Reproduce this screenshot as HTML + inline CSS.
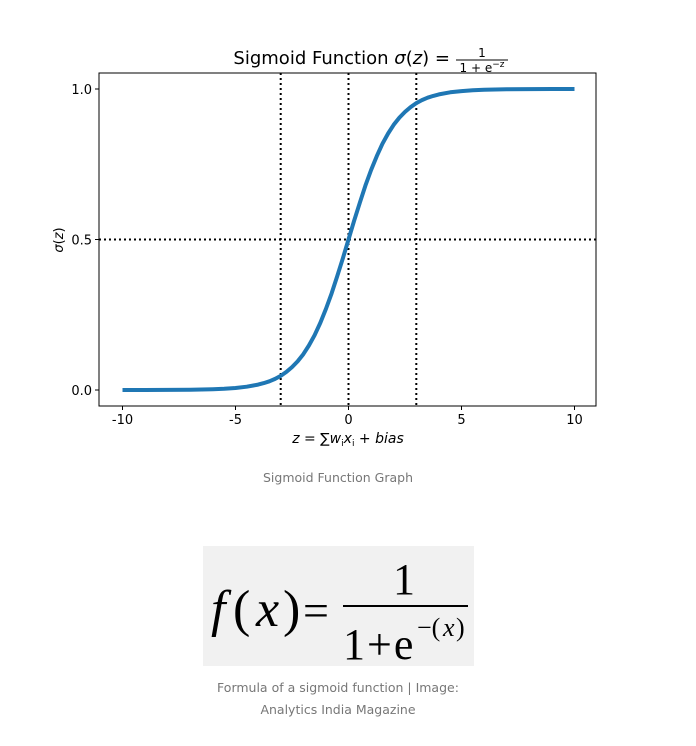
<!DOCTYPE html>
<html><head><meta charset="utf-8"><style>
body{margin:0;background:#fff;width:696px;height:746px;overflow:hidden;font-family:"DejaVu Sans","Liberation Sans",sans-serif}
.cap{position:absolute;left:0;width:676px;text-align:center;color:#777;font-size:12.5px;font-family:"DejaVu Sans","Liberation Sans",sans-serif}
</style></head><body>
<svg width="696" height="470" style="position:absolute;left:0;top:0" id="chart"></svg>
<div class="cap" style="top:470px">Sigmoid Function Graph</div>
<div style="position:absolute;left:203px;top:546px;width:271px;height:120px;background:#f1f1f1">
<svg width="271" height="120" style="position:absolute;left:0;top:0" font-family="Liberation Serif,serif">
<text x="8" y="80" font-size="52" font-style="italic">f</text>
<text x="30" y="80" font-size="52">(</text>
<text x="53" y="80" font-size="52" font-style="italic">x</text>
<text x="80" y="80" font-size="52">)</text>
<text x="100" y="80" font-size="46">=</text>
<text x="190" y="48" font-size="44">1</text>
<line x1="140" y1="60" x2="265" y2="60" stroke="#000" stroke-width="2"/>
<text x="140" y="113" font-size="44">1<tspan dx="2">+</tspan><tspan dx="2">e</tspan></text>
<text x="214" y="90" font-size="26">−(</text>
<text x="240" y="90" font-size="26" font-style="italic">x</text>
<text x="253" y="90" font-size="26">)</text>
</svg></div>
<div class="cap" style="top:677px;line-height:22px">Formula of a sigmoid function | Image:<br>Analytics India Magazine</div>
<script>
const zVals=[-10,-9,-8,-7,-6,-5.5,-5,-4.5,-4,-3.75,-3.5,-3.25,-3,-2.75,-2.5,-2.25,-2,-1.75,-1.5,-1.25,-1,-0.75,-0.5,-0.25,0,0.25,0.5,0.75,1,1.25,1.5,1.75,2,2.25,2.5,2.75,3,3.25,3.5,3.75,4,4.5,5,5.5,6,7,8,9,10];
const sigVals=[0.00005,0.00012,0.00034,0.0009,0.0025,0.004,0.0067,0.011,0.018,0.023,0.029,0.037,0.047,0.060,0.076,0.095,0.119,0.148,0.182,0.223,0.269,0.321,0.378,0.438,0.5,0.562,0.622,0.679,0.731,0.777,0.818,0.852,0.881,0.905,0.924,0.940,0.953,0.963,0.971,0.977,0.982,0.989,0.993,0.996,0.9975,0.999,0.9997,0.9999,1.0];
const xTicks=[-10,-5,0,5,10];
const yTicks=[0.0,0.5,1.0];
const vLines=[-3,0,3];
const hLines=[0.5];
const NS="http://www.w3.org/2000/svg";
const svg=document.getElementById('chart');
const L=99,R=596,T=73,B=406;
const sx=z=>348.5+z*22.6;
const sy=v=>390-v*301;
function mk(t,a){const e=document.createElementNS(NS,t);for(const k in a)e.setAttribute(k,a[k]);svg.appendChild(e);return e;}
let d=zVals.map((z,i)=>(i?'L':'M')+sx(z).toFixed(1)+','+sy(sigVals[i]).toFixed(1)).join(' ');
vLines.forEach(z=>{const l=mk('line',{x1:sx(z),x2:sx(z),y1:T,y2:B,stroke:'#000','stroke-width':2,'stroke-dasharray':'2,3'});

});
hLines.forEach(v=>{const l=mk('line',{x1:L,x2:R,y1:sy(v),y2:sy(v),stroke:'#000','stroke-width':2,'stroke-dasharray':'2,3'});

});
const c=mk('path',{d:d,fill:'none',stroke:'#1f77b4','stroke-width':4,'stroke-linejoin':'round'});


const f=mk('rect',{x:L,y:T,width:R-L,height:B-T,fill:'none',stroke:'#000','stroke-width':1});


xTicks.forEach(z=>{mk('line',{x1:sx(z),x2:sx(z),y1:B,y2:B+4,stroke:'#000'});
const t=mk('text',{x:sx(z),y:B+18,'text-anchor':'middle','font-size':13});t.textContent=z;

});
yTicks.forEach(v=>{mk('line',{x1:L-4,x2:L,y1:sy(v),y2:sy(v),stroke:'#000'});
const t=mk('text',{x:L-7,y:sy(v)+5,'text-anchor':'end','font-size':13});t.textContent=v.toFixed(1);

});
const ti=mk('text',{x:450,y:64,'text-anchor':'end','font-size':18});
ti.innerHTML='Sigmoid Function <tspan font-style="italic">σ</tspan>(<tspan font-style="italic">z</tspan>) =';


const n=mk('text',{x:482,y:57,'text-anchor':'middle','font-size':12});n.textContent='1';
mk('line',{x1:456,x2:508,y1:60,y2:60,stroke:'#000'});
const dn=mk('text',{x:482,y:72,'text-anchor':'middle','font-size':12});dn.innerHTML='1 + e<tspan dy="-5" font-size="9">−z</tspan>';
const xl=mk('text',{x:348,y:443,'text-anchor':'middle','font-size':14});
xl.innerHTML='<tspan font-style="italic">z</tspan> = ∑<tspan font-style="italic">w</tspan><tspan font-size="9" dy="3">i</tspan><tspan dy="-3" font-style="italic">x</tspan><tspan font-size="9" dy="3">i</tspan><tspan dy="-3"> + </tspan><tspan font-style="italic">bias</tspan>';


const yl=mk('text',{x:0,y:0,'text-anchor':'middle','font-size':13,transform:'translate(63,240) rotate(-90)'});
yl.innerHTML='<tspan font-style="italic">σ</tspan>(<tspan font-style="italic">z</tspan>)';


</script>
</body></html>
